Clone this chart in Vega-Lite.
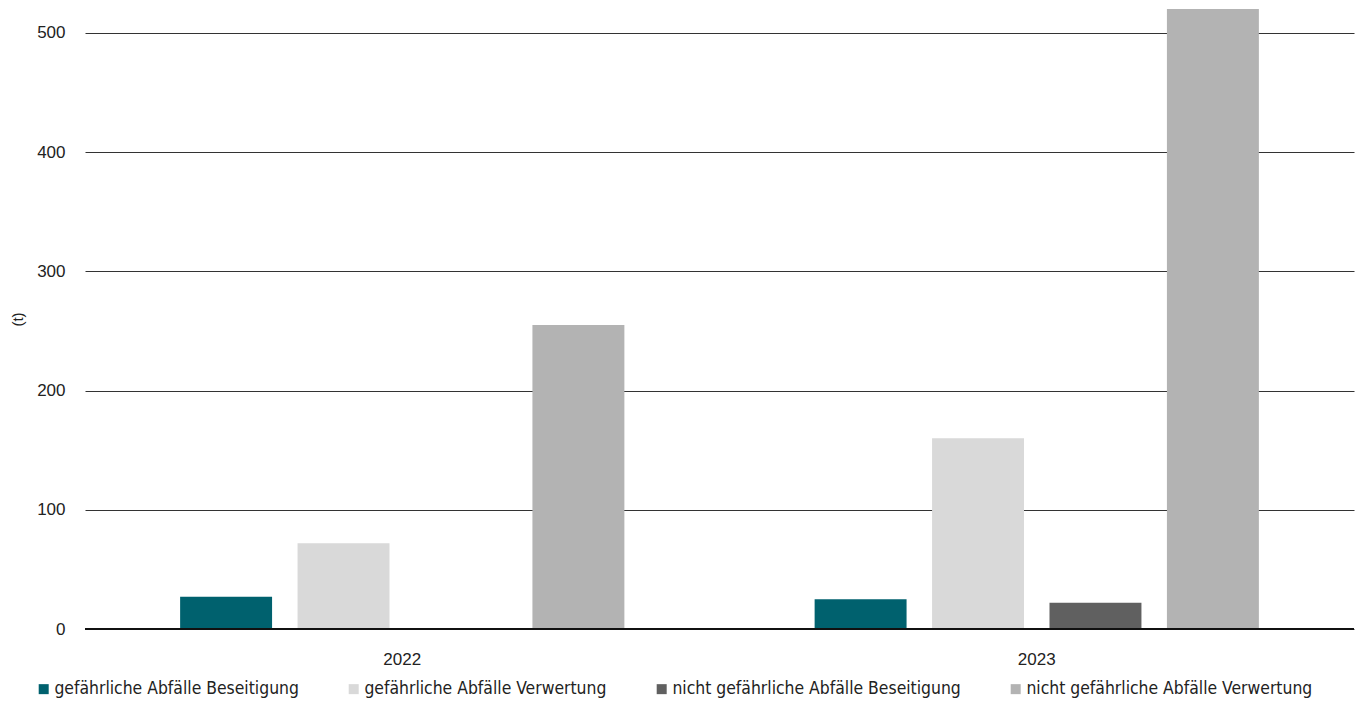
{
  "$schema": "https://vega.github.io/schema/vega-lite/v6.json",
  "autosize": "none",
  "width": 1269,
  "height": 620,
  "padding": {"left": 85, "top": 9, "right": 7, "bottom": 75},
  "background": "white",
  "config": {
    "view": {"stroke": null},
    "font": "Liberation Sans"
  },
  "data": {
    "values": [
      {"Jahr": "2022", "Kategorie": "gefährliche Abfälle Beseitigung", "Wert": 27},
      {"Jahr": "2022", "Kategorie": "gefährliche Abfälle Verwertung", "Wert": 72},
      {"Jahr": "2022", "Kategorie": "nicht gefährliche Abfälle Beseitigung", "Wert": 0},
      {"Jahr": "2022", "Kategorie": "nicht gefährliche Abfälle Verwertung", "Wert": 255},
      {"Jahr": "2023", "Kategorie": "gefährliche Abfälle Beseitigung", "Wert": 25},
      {"Jahr": "2023", "Kategorie": "gefährliche Abfälle Verwertung", "Wert": 160},
      {"Jahr": "2023", "Kategorie": "nicht gefährliche Abfälle Beseitigung", "Wert": 22},
      {"Jahr": "2023", "Kategorie": "nicht gefährliche Abfälle Verwertung", "Wert": 520}
    ]
  },
  "layer": [
    {
      "mark": {"type": "bar"},
      "encoding": {
        "x": {
          "field": "Jahr",
          "type": "nominal",
          "scale": {"paddingInner": 0, "paddingOuter": 0},
          "axis": {
            "title": null,
            "labelAngle": 0,
            "labelFont": "Liberation Sans",
            "labelFontSize": 17,
            "labelColor": "#222222",
            "labelPadding": 22,
            "ticks": false,
            "domain": false
          }
        },
        "xOffset": {
          "field": "Kategorie",
          "type": "nominal",
          "scale": {"paddingInner": 0.217, "paddingOuter": 0.81}
        },
        "y": {
          "field": "Wert",
          "type": "quantitative",
          "scale": {"domain": [0, 520], "nice": false},
          "axis": {
            "title": "(t)",
            "titleFont": "Liberation Sans",
            "titleFontSize": 15,
            "titleFontWeight": "normal",
            "titleColor": "#222222",
            "titlePadding": 11,
            "values": [0, 100, 200, 300, 400, 500],
            "labelFont": "Liberation Sans",
            "labelFontSize": 17,
            "labelColor": "#222222",
            "labelPadding": 20,
            "ticks": false,
            "domain": false,
            "gridColor": "#333333",
            "gridWidth": 1
          }
        },
        "color": {
          "field": "Kategorie",
          "type": "nominal",
          "scale": {
            "domain": [
              "gefährliche Abfälle Beseitigung",
              "gefährliche Abfälle Verwertung",
              "nicht gefährliche Abfälle Beseitigung",
              "nicht gefährliche Abfälle Verwertung"
            ],
            "range": ["#00616e", "#d9d9d9", "#606060", "#b3b3b3"]
          },
          "legend": {
            "title": null,
            "orient": "none",
            "direction": "horizontal",
            "columns": 4,
            "legendX": -50,
            "legendY": 671,
            "symbolType": "square",
            "symbolSize": 100,
            "symbolStrokeWidth": 0,
            "labelFont": "DejaVu Sans Condensed",
            "labelFontSize": 17.4,
            "labelLimit": 0,
            "labelColor": "#222222",
            "labelOffset": 2,
            "columnPadding": 46
          }
        }
      }
    },
    {
      "data": {"values": [{"Wert": 0}]},
      "mark": {"type": "rule", "color": "#111111", "strokeWidth": 2},
      "encoding": {
        "y": {"field": "Wert", "type": "quantitative"}
      }
    }
  ]
}
